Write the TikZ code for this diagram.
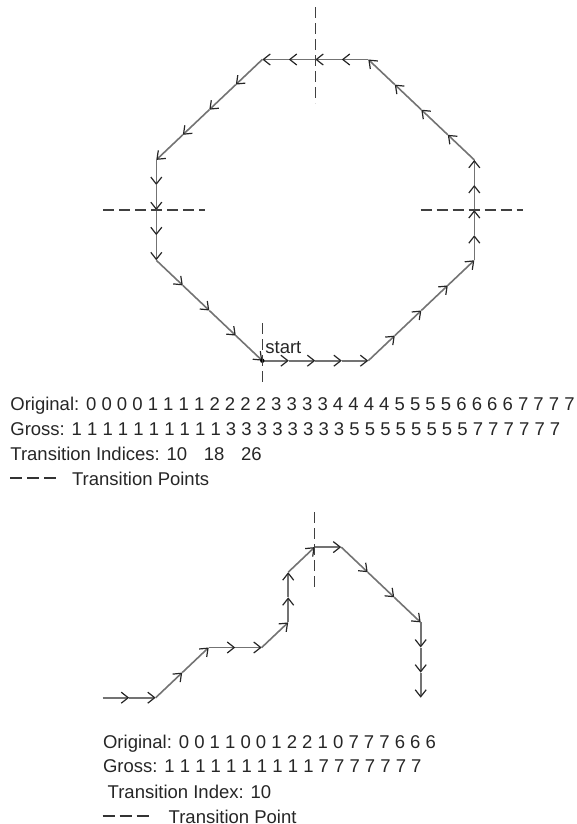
\documentclass[tikz,border=0pt]{standalone}
\usepackage{fontspec}
\setmainfont{Liberation Sans}
\usetikzlibrary{arrows.meta,calc}

\tikzset{
  chainstep/.style={draw=black!55, line width=0.8pt,
    -{Straight Barb[length=3.5pt,width=5.5pt,line width=0.6pt,color=black!85]}},
  transline/.style={draw=black!75, line width=0.75pt, dash pattern=on 5.5pt off 2.5pt},
  legendline/.style={draw=black!80, line width=0.9pt, dash pattern=on 6pt off 2.5pt},
  lbl/.style={font=\fontsize{9.25}{11}\selectfont, text=black!85, inner sep=0pt, anchor=base west}
}

\begin{document}
\begin{tikzpicture}[x=0.5pt,y=-0.5pt]
  \useasboundingbox (0,0) rectangle (577,824);

  % Octagon traced step by step from its chain code
  \coordinate (o0) at (262.3,360.7);
  \foreach \d [count=\i, remember=\i as \j (initially 0)] in
      {0,0,0,0,1,1,1,1,2,2,2,2,3,3,3,3,4,4,4,4,5,5,5,5,6,6,6,6,7,7,7,7}
    \draw[chainstep] (o\j) -- ++({26.5*round(cos(\d*45))},{-25.1*round(sin(\d*45))}) coordinate (o\i);

  % Start point
  \fill[black] (o0) circle (1.1pt);
  \node[lbl] (startlbl) at ($(o0)+(2.7,-7.4)$) {start};

  % Transition points of the octagon
  \draw[transline] ($(o0)+(0,-37.7)$) -- ($(o0)+(0,22.3)$);
  \draw[transline] ($(o10)+(-53.6,0)$) -- ($(o10)+(48.4,0)$);
  \draw[transline] ($(o18)+(0,-52.2)$) -- ($(o18)+(0,43.8)$);
  \draw[transline] ($(o26)+(-53.3,0)$) -- ($(o26)+(48.7,0)$);

  % Codes for the octagon
  \node[lbl] (orig) at (10,410.7) {Original: 0 0 0 0 1 1 1 1 2 2 2 2 3 3 3 3 4 4 4 4 5 5 5 5 6 6 6 6 7 7 7 7};
  \node[lbl] (gross) at (10,435.3) {Gross: 1 1 1 1 1 1 1 1 1 1 3 3 3 3 3 3 3 3 5 5 5 5 5 5 5 5 7 7 7 7 7 7};
  \node[lbl] (trans) at (10,460) {Transition Indices: 10\hspace{0.9em}18\hspace{0.9em}26};
  \node[lbl] (legend) at (71.7,485) {Transition Points};
  \draw[legendline] ($(legend.west)+(-61.7,0)$) -- ($(legend.west)+(-15.7,0)$);

  % Open curve traced from its chain code
  \coordinate (b0) at (102.7,697.7);
  \foreach \d [count=\i, remember=\i as \j (initially 0)] in
      {0,0,1,1,0,0,1,2,2,1,0,7,7,7,6,6,6}
    \draw[chainstep] (b\j) -- ++({26.5*round(cos(\d*45))},{-25.1*round(sin(\d*45))}) coordinate (b\i);

  % Transition point of the curve
  \draw[transline] ($(b10)+(0,-35)$) -- ($(b10)+(0,40)$);

  % Codes for the curve
  \node[lbl] (origb) at (102.7,748) {Original: 0 0 1 1 0 0 1 2 2 1 0 7 7 7 6 6 6};
  \node[lbl] (grossb) at (102.7,772) {Gross: 1 1 1 1 1 1 1 1 1 1 7 7 7 7 7 7 7};
  \node[lbl] (transb) at (107.3,798) {Transition Index: 10};
  \node[lbl] (legendb) at (168.3,823) {Transition Point};
  \draw[legendline] ($(legendb.west)+(-65.6,0)$) -- ($(legendb.west)+(-17.6,0)$);
\end{tikzpicture}
\end{document}
